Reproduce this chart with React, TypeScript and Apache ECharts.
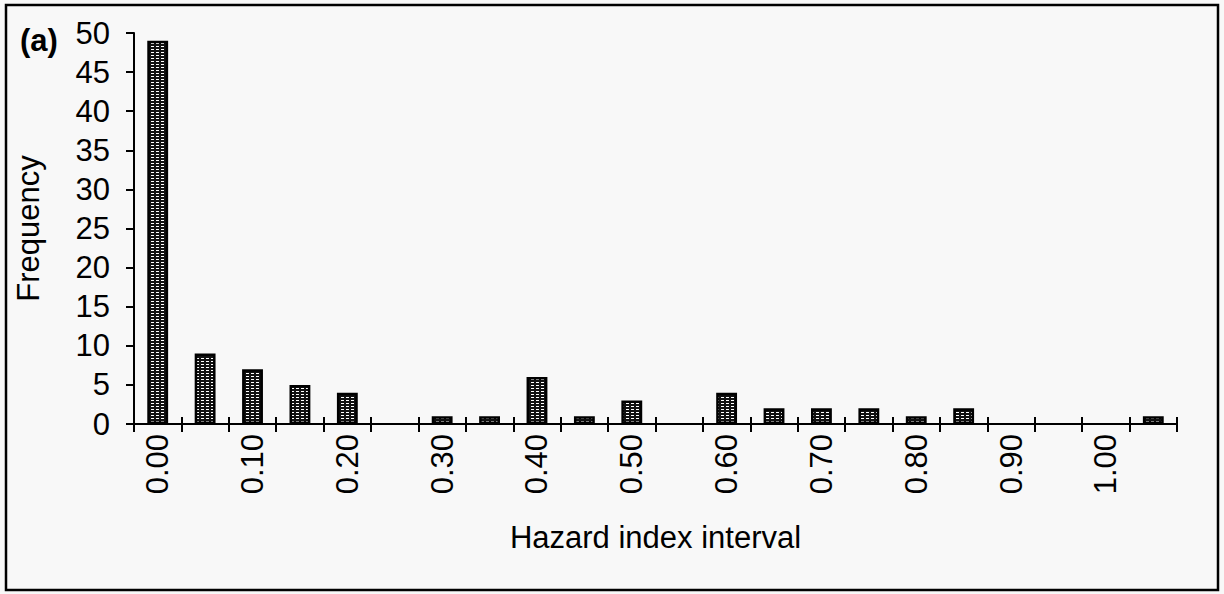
import React, { useEffect, useRef } from "react";
import * as echarts from "echarts";

const categories: string[] = [
  "0.00", "0.05", "0.10", "0.15", "0.20", "0.25", "0.30", "0.35", "0.40", "0.45", "0.50",
  "0.55", "0.60", "0.65", "0.70", "0.75", "0.80", "0.85", "0.90", "0.95", "1.00", "1.05",
];
const frequency: number[] = [49, 9, 7, 5, 4, 0, 1, 1, 6, 1, 3, 0, 4, 2, 2, 2, 1, 2, 0, 0, 0, 1];
const yTicks = { min: 0, max: 50, interval: 5 };
const xAxisName = "Hazard index interval";
const yAxisName = "Frequency";
const panelLabel = "(a)";

const FONT = "'Liberation Sans', Arial, Helvetica, sans-serif";
const GRID = { left: 134, right: 47, top: 33, bottom: 170 };
const TICK_UP = 7;

function makePattern(): HTMLCanvasElement {
  const c = document.createElement("canvas");
  c.width = 5;
  c.height = 3;
  const ctx = c.getContext("2d")!;
  ctx.fillStyle = "#111111";
  ctx.fillRect(0, 0, 5, 3);
  ctx.fillStyle = "#ffffff";
  ctx.fillRect(1, 1, 3, 1);
  return c;
}

export default function App() {
  const ref = useRef<HTMLDivElement>(null);
  useEffect(() => {
    if (!ref.current) return;
    const chart = echarts.init(ref.current, undefined, { renderer: "svg" });
    const pattern = makePattern();
    const barData = frequency.map((v) =>
      v === 0 ? { value: v, itemStyle: { borderWidth: 0, opacity: 0 } } : v
    );
    chart.setOption({
      animation: false,
      backgroundColor: "#f8f8f8",
      textStyle: { fontFamily: FONT, color: "#000" },
      grid: { ...GRID, containLabel: false },
      graphic: [
        {
          type: "rect",
          shape: { x: 6, y: 5, width: 1212, height: 585 },
          style: { fill: "none", stroke: "#000", lineWidth: 2.5 },
          z: 10,
        },
        {
          type: "text",
          left: 20,
          top: 25,
          style: { text: panelLabel, font: `bold 31px ${FONT}`, fill: "#000" },
        },
      ],
      xAxis: {
        type: "category",
        data: categories,
        position: "bottom",
        offset: -TICK_UP,
        boundaryGap: true,
        axisLine: { show: false, onZero: false },
        axisTick: {
          show: true,
          interval: 0,
          alignWithLabel: false,
          length: 8 + TICK_UP,
          lineStyle: { color: "#000", width: 2 },
        },
        axisLabel: {
          interval: 1,
          rotate: 90,
          margin: 10 + TICK_UP,
          fontSize: 31,
          fontFamily: FONT,
          color: "#000",
        },
        name: xAxisName,
        nameLocation: "middle",
        nameGap: 98 + TICK_UP,
        nameTextStyle: { fontSize: 31, fontFamily: FONT, color: "#000" },
        splitLine: { show: false },
      },
      yAxis: {
        type: "value",
        min: yTicks.min,
        max: yTicks.max,
        interval: yTicks.interval,
        axisLine: { show: true, lineStyle: { color: "#000", width: 2 } },
        axisTick: { show: true, length: 8, lineStyle: { color: "#000", width: 2 } },
        axisLabel: { margin: 24, fontSize: 31, fontFamily: FONT, color: "#000" },
        splitLine: { show: false },
        name: yAxisName,
        nameLocation: "middle",
        nameRotate: 90,
        nameGap: 90,
        nameTextStyle: { fontSize: 31, fontFamily: FONT, color: "#000" },
      },
      series: [
        {
          type: "bar",
          data: barData,
          barWidth: "44%",
          itemStyle: {
            color: { image: pattern, repeat: "repeat" },
            borderColor: "#000",
            borderWidth: 2.5,
          },
          markLine: {
            silent: true,
            symbol: "none",
            label: { show: false },
            lineStyle: { color: "#000", width: 2, type: "solid" },
            data: [{ yAxis: 0 }],
          },
        },
      ],
    });
    return () => chart.dispose();
  }, []);
  return (
    <div
      ref={ref}
      style={{ position: "absolute", left: 0, top: 0, width: 1224, height: 594, background: "#f8f8f8" }}
    />
  );
}
